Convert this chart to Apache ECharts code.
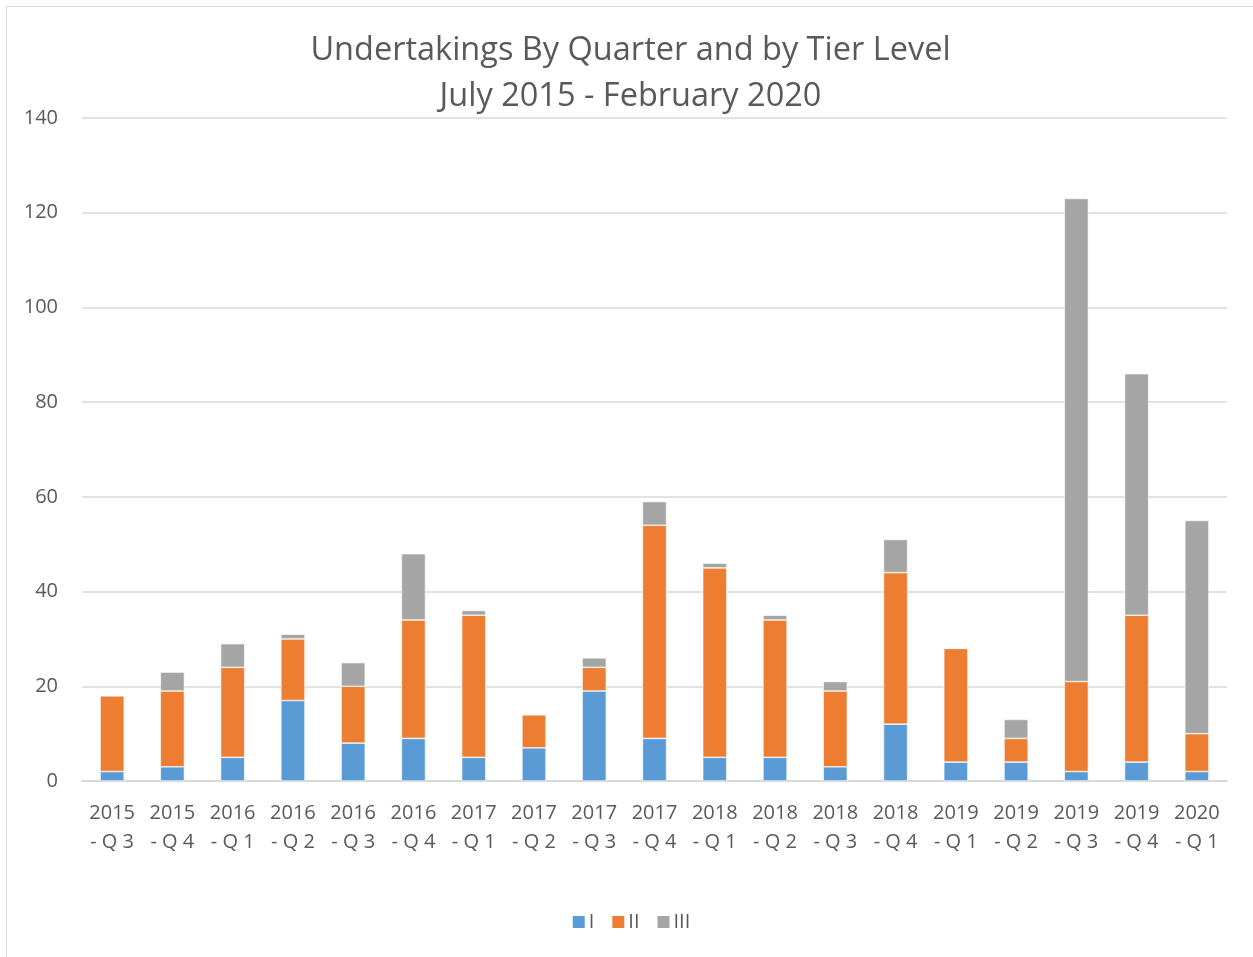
<!DOCTYPE html>
<html>
<head>
    <meta charset="utf-8">
    <title>Undertakings By Quarter</title>
    <script src="https://cdn.jsdelivr.net/npm/echarts@6/dist/echarts.min.js"></script>
    <style>
        body { margin: 0; background: #fff; }
        #frame {
            position: absolute; left: 6px; top: 6px;
            width: 1247px; height: 951px;
            border-left: 1px solid #d9d9d9; border-top: 1px solid #d9d9d9;
        }
        #main { width: 1247px; height: 951px; }
    </style>
</head>
<body>
    <div id="frame"><div id="main"></div></div>

    <script type="text/javascript">
        // quarters on the x axis
        var quarters = ['2015\n- Q 3', '2015\n- Q 4', '2016\n- Q 1', '2016\n- Q 2', '2016\n- Q 3',
            '2016\n- Q 4', '2017\n- Q 1', '2017\n- Q 2', '2017\n- Q 3', '2017\n- Q 4',
            '2018\n- Q 1', '2018\n- Q 2', '2018\n- Q 3', '2018\n- Q 4', '2019\n- Q 1',
            '2019\n- Q 2', '2019\n- Q 3', '2019\n- Q 4', '2020\n- Q 1'];

        // tier values
        var tierI   = [2, 3, 5, 17, 8, 9, 5, 7, 19, 9, 5, 5, 3, 12, 4, 4, 2, 4, 2];
        var tierII  = [16, 16, 19, 13, 12, 25, 30, 7, 5, 45, 40, 29, 16, 32, 24, 5, 19, 31, 8];
        var tierIII = [0, 4, 5, 1, 5, 14, 1, 0, 2, 5, 1, 1, 2, 7, 0, 4, 102, 51, 45];

        var txt = '#595959';
        var font = '"Open Sans", "Liberation Sans", sans-serif';

        var myChart = echarts.init(document.getElementById('main'));

        function bar(name, data, color) {
            return {
                name: name,
                type: 'bar',
                stack: 'tier',
                barWidth: '40%',
                data: data,
                itemStyle: { color: color, borderColor: '#fff', borderWidth: 0.6 }
            };
        }

        var option = {
            animation: false,
            textStyle: { fontFamily: font },
            title: {
                text: 'Undertakings By Quarter and by Tier Level\nJuly 2015 - February 2020',
                left: 'center',
                top: 16,
                textStyle: { color: txt, fontSize: 32.5, fontWeight: 'normal', lineHeight: 46, fontFamily: font }
            },
            legend: {
                bottom: 21,
                left: 'center',
                itemWidth: 14,
                itemHeight: 14,
                itemGap: 16,
                icon: 'rect',
                textStyle: { color: txt, fontSize: 20, padding: [0, 0, 0, -2] },
                data: ['I', 'II', 'III']
            },
            grid: { left: 75, right: 27, top: 111, bottom: 177 },
            xAxis: {
                type: 'category',
                data: quarters,
                axisLine: { lineStyle: { color: '#d9d9d9', width: 2 } },
                axisTick: { show: false },
                axisLabel: { color: txt, fontSize: 20, lineHeight: 29, margin: 18, interval: 0 }
            },
            yAxis: {
                type: 'value',
                min: 0,
                max: 140,
                interval: 20,
                axisLine: { show: false },
                axisTick: { show: false },
                splitLine: { lineStyle: { color: '#d9d9d9', width: 1.5 } },
                axisLabel: { color: txt, fontSize: 20, margin: 24 }
            },
            series: [
                bar('I', tierI, '#5b9bd5'),
                bar('II', tierII, '#ed7d31'),
                bar('III', tierIII, '#a5a5a5')
            ]
        };

        myChart.setOption(option);
    </script>
</body>
</html>
